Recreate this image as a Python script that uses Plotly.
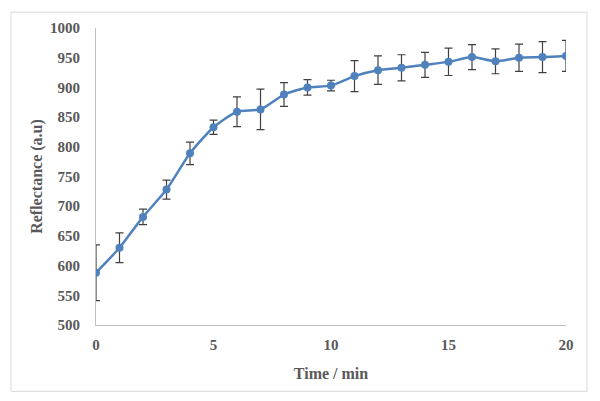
import plotly.graph_objects as go

time_min = list(range(0, 21))
reflectance = [588, 630, 682, 728, 789, 833, 859, 863, 888, 900, 903, 919, 929, 933, 938, 943, 951, 944, 950, 951, 953]
error = [47, 25, 13, 16, 19, 12, 25, 34, 20, 13, 9, 26, 24, 22, 21, 23, 21, 21, 23, 26, 26]

x_ticks = [0, 5, 10, 15, 20]
y_ticks = [500, 550, 600, 650, 700, 750, 800, 850, 900, 950, 1000]

font_family = "Liberation Serif"
label_color = "#595959"

fig = go.Figure()
fig.add_trace(go.Scatter(
    x=time_min, y=reflectance,
    mode="lines+markers",
    line=dict(color="#4F81BD", width=2.5, shape="spline", smoothing=0.6),
    marker=dict(color="#4F81BD", size=8),
    error_y=dict(type="data", array=error, visible=True, color="#404040", thickness=1.2, width=4),
    showlegend=False,
))

fig.update_layout(
    width=592, height=393,
    paper_bgcolor="white", plot_bgcolor="white",
    margin=dict(l=88, r=34, t=17, b=76),
    font=dict(family=font_family, color=label_color, size=15),
    xaxis=dict(
        range=[0, 20], tickvals=x_ticks, showgrid=False, zeroline=False,
        showline=True, linecolor="#BFBFBF", linewidth=1, ticks="",
        tickfont=dict(family=font_family, size=15, color=label_color, weight="bold"),
        ticklabelstandoff=6,
        title=dict(text="<b>Time / min</b>", font=dict(family=font_family, size=16, color=label_color), standoff=15),
    ),
    yaxis=dict(
        range=[500, 1000], tickvals=y_ticks, showgrid=False, zeroline=False,
        showline=True, linecolor="#BFBFBF", linewidth=1, ticks="",
        tickfont=dict(family=font_family, size=15, color=label_color, weight="bold"),
        ticklabelstandoff=12,
        title=dict(text="<b>Reflectance (a.u)</b>", font=dict(family=font_family, size=16, color=label_color), standoff=3),
    ),
    shapes=[dict(type="rect", xref="paper", yref="paper",
                 x0=(3 - 88) / 470, x1=(579 - 88) / 470,
                 y0=(317 - 384) / 300, y1=(317 - 1) / 300,
                 line=dict(color="#D9D9D9", width=1), fillcolor="rgba(0,0,0,0)", layer="below")],
)

fig.write_html("out.html")
